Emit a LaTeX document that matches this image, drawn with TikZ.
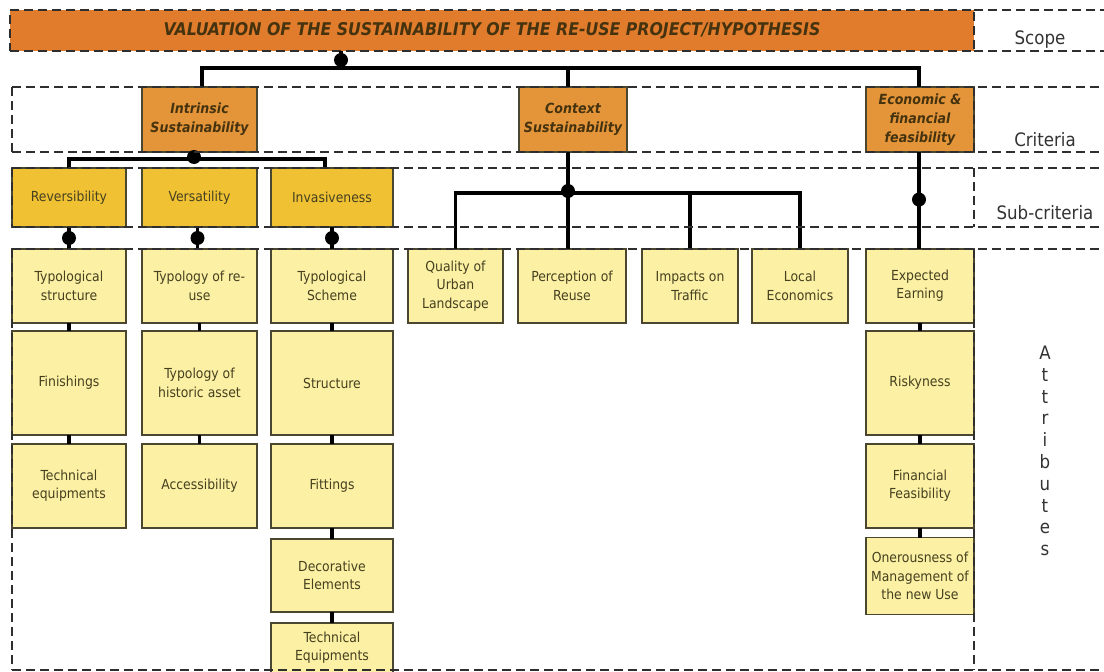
\documentclass[tikz,border=0pt]{standalone}
\usepackage{fontspec}
\setmainfont{DejaVu Sans Condensed}
\usetikzlibrary{calc}

\definecolor{scopefill}{HTML}{E07C2C}
\definecolor{critfill}{HTML}{E4953A}
\definecolor{subfill}{HTML}{EFC133}
\definecolor{attrfill}{HTML}{FBF0A3}
\definecolor{boxedge}{HTML}{4A4630}
\definecolor{bandgray}{HTML}{2E2E2E}
\definecolor{boxtext}{HTML}{454020}
\definecolor{titletext}{HTML}{45320F}
\definecolor{lbltext}{HTML}{333333}

\tikzset{
  wh/.style 2 args={minimum width=#1, minimum height=#2},
  band/.style={draw=bandgray, line width=2pt, dash pattern=on 9pt off 5pt},
  scopebar/.style={band, fill=scopefill, inner sep=0pt, outer sep=0pt,
    text=titletext, font=\bfseries\itshape\fontsize{17.5}{20}\selectfont},
  critbox/.style={draw=boxedge, line width=1.6pt, fill=critfill, inner sep=0pt, outer sep=0pt,
    align=center, text=titletext, font=\bfseries\itshape\fontsize{14}{19}\selectfont},
  subbox/.style={draw=boxedge, line width=1.6pt, fill=subfill, inner sep=0pt, outer sep=0pt,
    align=center, text=boxtext, font=\fontsize{13.8}{18.3}\selectfont},
  attrbox/.style={draw=boxedge, line width=1.6pt, fill=attrfill, inner sep=0pt, outer sep=0pt,
    align=center, text=boxtext, font=\fontsize{13.8}{18.3}\selectfont},
  link/.style={draw=black, line width=3.2pt},
  chain/.style={draw=black, line width=3.6pt},
  hub/.style={circle, fill=black, inner sep=0pt, minimum size=14pt},
  lbl/.style={text=lbltext, font=\fontsize{18.5}{21.8}\selectfont, inner sep=0pt},
}

\begin{document}
\begin{tikzpicture}[x=1pt, y=-1pt]
\clip (0,0) rectangle (1104,672);
\fill[white] (0,0) rectangle (1104,672);

% ---------- scope ----------
\node[scopebar, wh={964}{41}] (scope) at (492,30.5)
  {VALUATION OF THE SUSTAINABILITY OF THE RE-USE PROJECT/HYPOTHESIS};

% ---------- criteria ----------
\node[critbox, wh={115}{65}] (intr) at (199.5,119.5) {Intrinsic\\Sustainability};
\node[critbox, wh={108}{65}] (ctx)  at (573,119.5)   {Context\\Sustainability};
\node[critbox, wh={108}{65}] (econ) at (920,119.5)   {Economic \&\\financial\\feasibility};

% ---------- sub-criteria ----------
\node[subbox, wh={114}{59}] (rev)  at (69,197.5)    {Reversibility};
\node[subbox, wh={115}{59}] (vers) at (199.5,197.5) {Versatility};
\node[subbox, wh={122}{59}] (inv)  at (332,197.5)   {Invasiveness};

% ---------- attributes: reversibility ----------
\node[attrbox, wh={114}{74}]  (a11) at (69,286) {Typological\\structure};
\node[attrbox, wh={114}{104}] (a12) at (69,383) {Finishings};
\node[attrbox, wh={114}{84}]  (a13) at (69,486) {Technical\\equipments};

% ---------- attributes: versatility ----------
\node[attrbox, wh={115}{74}]  (a21) at (199.5,286) {Typology of re-\\use};
\node[attrbox, wh={115}{104}] (a22) at (199.5,383) {Typology of\\historic asset};
\node[attrbox, wh={115}{84}]  (a23) at (199.5,486) {Accessibility};

% ---------- attributes: invasiveness ----------
\node[attrbox, wh={122}{74}]  (a31) at (332,286)   {Typological\\Scheme};
\node[attrbox, wh={122}{104}] (a32) at (332,383)   {Structure};
\node[attrbox, wh={122}{84}]  (a33) at (332,486)   {Fittings};
\node[attrbox, wh={122}{73}]  (a34) at (332,575.5) {Decorative\\Elements};
\node[attrbox, wh={122}{50}]  (a35) at (332,648)   {Technical\\Equipments};

% ---------- attributes: context ----------
\node[attrbox, wh={95}{74}]  (c1) at (455.5,286) {Quality of\\Urban\\Landscape};
\node[attrbox, wh={108}{74}] (c2) at (572,286)   {Perception of\\Reuse};
\node[attrbox, wh={96}{74}]  (c3) at (690,286)   {Impacts on\\Traffic};
\node[attrbox, wh={96}{74}]  (c4) at (800,286)   {Local\\Economics};

% ---------- attributes: economic ----------
\node[attrbox, wh={108}{74}]  (e1) at (920,286) {Expected\\Earning};
\node[attrbox, wh={108}{104}] (e2) at (920,383) {Riskyness};
\node[attrbox, wh={108}{84}]  (e3) at (920,486) {Financial\\Feasibility};
\node[attrbox, wh={108}{77}]  (e4) at (920,576) {Onerousness of\\Management of\\the new Use};

% ---------- connectors: scope to criteria ----------
\coordinate (t0) at (341,68);
\draw[link] (scope.south -| t0) -- (t0);
\draw[link] ([xshift=2.5pt]intr.north) |- (t0) -| ([xshift=-1pt]econ.north);
\draw[link] (t0) -| ([xshift=-5pt]ctx.north);
\node[hub] (h0) at (341,60) {};

% ---------- connectors: intrinsic to sub-criteria ----------
\coordinate (t1) at (195,159);
\draw[link] ([xshift=-4pt]intr.south) -- (t1);
\draw[link] (rev.north) |- (t1) -| ([xshift=-7pt]inv.north);
\node[hub] (h1) at (194,157) {};

% ---------- connectors: sub-criteria to attributes ----------
\draw[link] (rev) -- node[hub] (h2) {} (a11);
\draw[link] ([xshift=-2pt]vers.south) -- node[hub] (h3) {} ([xshift=-2pt]a21.north);
\draw[link] (inv) -- node[hub] (h4) {} (a31);

% ---------- connectors: context to attributes ----------
\coordinate (t2) at (568,193);
\draw[link] (ctx.south -| t2) -- (c2.north -| t2);
\draw[link] (c1.north) |- (t2) -| (c4.north);
\draw[link] (c3.north) -- (c3.north |- t2);
\node[hub] (h5) at (568,191) {};

% ---------- connectors: economic to attributes ----------
\draw[link] ([xshift=-1pt]econ.south) -- node[hub, pos=0.49] (h6) {} ([xshift=-1pt]e1.north);

% ---------- attribute chains ----------
\draw[chain] (a11) -- (a12);
\draw[chain] (a12) -- (a13);
\draw[chain] (a21) -- (a22);
\draw[chain] (a22) -- (a23);
\draw[chain] (a31) -- (a32);
\draw[chain] (a32) -- (a33);
\draw[chain] (a33) -- (a34);
\draw[chain] (a34) -- (a35);
\draw[chain] (e1) -- (e2);
\draw[chain] (e2) -- (e3);
\draw[chain] (e3) -- (e4);

% ---------- level bands ----------
\draw[band] (974,10) -- (1104,10);
\draw[band] (974,51) -- (1104,51);
\draw[band] (12,87) -- (1104,87);
\draw[band] (12,152) -- (1104,152);
\draw[band] (12,87) -- (12,152);
\draw[band] (974,87) -- (974,152);
\draw[band] (12,168) -- (1104,168);
\draw[band] (12,227) -- (1104,227);
\draw[band] (12,168) -- (12,227);
\draw[band] (974,168) -- (974,227);
\draw[band] (12,249) -- (1104,249);
\draw[band] (12,249) -- (12,670);
\draw[band] (974,249) -- (974,670);
\draw[band] (12,670) -- (1104,670);

% ---------- level labels ----------
\node[lbl] (lscope) at (1040,40)  {Scope};
\node[lbl] (lcrit)  at (1045,140) {Criteria};
\node[lbl] (lsub)   at (1045,213) {Sub-criteria};
\node[lbl, align=center] (lattr) at (1045,451) {A\\t\\t\\r\\i\\b\\u\\t\\e\\s};
\end{tikzpicture}
\end{document}
